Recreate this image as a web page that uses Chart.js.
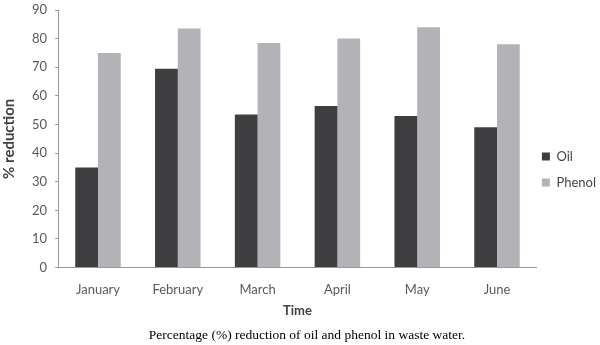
<!DOCTYPE html>
<html>
<head>
<meta charset="utf-8">
<script src="https://cdn.jsdelivr.net/npm/chart.js@4"></script>
<style>
  body { margin: 0; background: #fff; }
  #wrap { width: 600px; height: 345px; }
</style>
</head>
<body>
<div id="wrap"><canvas id="myChart" width="600" height="345"></canvas></div>
<script>
// Daten
const months = ["January", "February", "March", "April", "May", "June"]
const oil = [35, 69.5, 53.5, 56.5, 53, 49]
const phenol = [75, 83.5, 78.5, 80, 84, 78]
const yTicks = [0, 10, 20, 30, 40, 50, 60, 70, 80, 90]

const gray = '#595959'

// Legende etwas nach links/oben schieben (wie im Original)
const legendShift = {
    id: 'legendShift',
    afterLayout(chart) {
        const l = chart.legend
        l.left -= 8; l.right -= 8
        l.top -= 3; l.bottom -= 3
    }
}

const chart = new Chart(document.getElementById('myChart'), {
    type: 'bar',
    data: {
        labels: months,
        datasets: [
            { label: 'Oil', data: oil, backgroundColor: '#3e3e40' },
            { label: 'Phenol', data: phenol, backgroundColor: '#b3b2b7' }
        ]
    },
    options: {
        responsive: false,
        animation: false,
        layout: { padding: { top: 0, left: 0, right: -14 } },
        datasets: { bar: { barPercentage: 1, categoryPercentage: 0.57 } },
        plugins: {
            legend: {
                position: 'right',
                labels: {
                    boxWidth: 8, boxHeight: 8, padding: 13,
                    color: '#444', font: { family: 'Lato', size: 13 }
                }
            },
            title: {
                display: true,
                position: 'bottom',
                text: 'Percentage (%) reduction of oil and phenol in waste water.',
                color: '#000',
                font: { family: 'Liberation Serif', size: 13.5, weight: 'normal' },
                padding: { top: 5, bottom: 1 }
            },
            tooltip: { enabled: false }
        },
        scales: {
            x: {
                grid: { display: false },
                border: { display: true, color: '#999' },
                ticks: { color: gray, font: { family: 'Lato', size: 13 }, padding: 6 },
                title: { display: true, text: 'Time', color: '#404040', font: { family: 'Lato', size: 13, weight: 'bold' }, padding: { top: 0 } }
            },
            y: {
                min: 0, max: 90,
                afterBuildTicks: axis => { axis.ticks = yTicks.map(v => ({ value: v })) },
                // oberer Rand wie im Original (sonst zaehlt ticks.padding mit)
                afterFit: axis => { axis.paddingTop = 10 },
                grid: { drawOnChartArea: false, drawTicks: true, tickLength: 3, color: '#999' },
                border: { display: true, color: '#999' },
                ticks: { color: gray, font: { family: 'Lato', size: 13 }, padding: 8 },
                title: { display: true, text: '% reduction', color: '#404040', font: { family: 'Lato', size: 15, weight: 'bold' }, padding: { top: 0, bottom: 6 } }
            }
        }
    },
    plugins: [legendShift]
})
</script>
</body>
</html>
